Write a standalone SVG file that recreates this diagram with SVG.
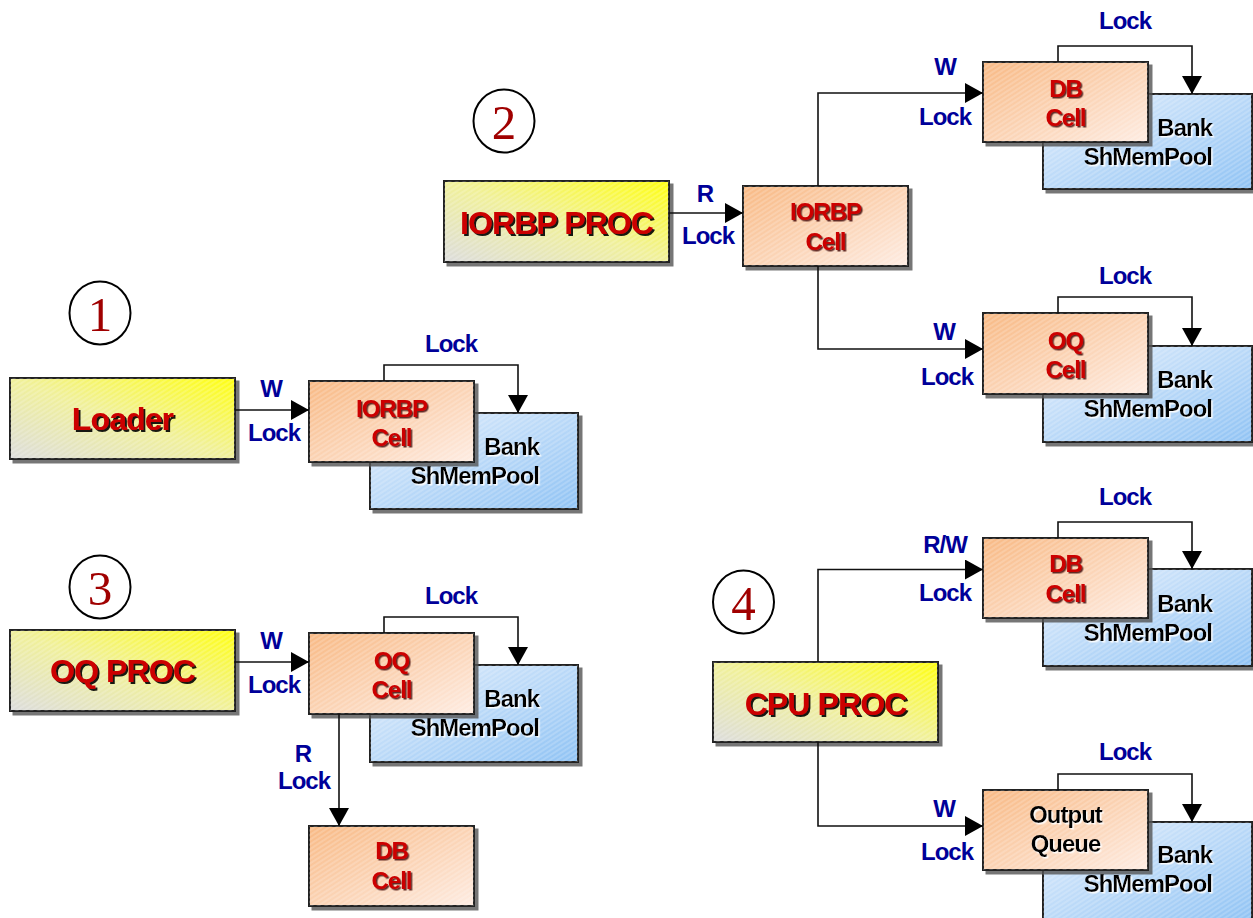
<svg xmlns="http://www.w3.org/2000/svg" width="1253" height="918" viewBox="0 0 1253 918">
<defs>
<linearGradient id="gProc" x1="0" y1="1" x2="1" y2="0">
<stop offset="0" stop-color="#dcdcdc"/>
<stop offset="0.5" stop-color="#f0f09a"/>
<stop offset="1" stop-color="#ffff10"/>
</linearGradient>
<linearGradient id="gCell" x1="0" y1="0" x2="1" y2="1">
<stop offset="0" stop-color="#f8b984"/>
<stop offset="1" stop-color="#feece2"/>
</linearGradient>
<linearGradient id="gBank" x1="0" y1="0" x2="1" y2="1">
<stop offset="0" stop-color="#e4effc"/>
<stop offset="1" stop-color="#90c3f4"/>
</linearGradient>
<pattern id="hatch" width="4" height="4" patternUnits="userSpaceOnUse" patternTransform="rotate(-33)">
<line x1="0" y1="1" x2="4" y2="1" stroke="#ffffff" stroke-opacity="0.35" stroke-width="1"/>
</pattern>
<filter id="boxSh" x="-5%" y="-5%" width="115%" height="120%">
<feDropShadow dx="3.5" dy="3.5" stdDeviation="0.6" flood-color="#555" flood-opacity="0.8"/>
</filter>
<filter id="redSh" x="-10%" y="-20%" width="130%" height="160%">
<feDropShadow dx="2" dy="2" stdDeviation="0.3" flood-color="#000" flood-opacity="0.9"/>
</filter>
<filter id="redShS" x="-10%" y="-20%" width="130%" height="160%">
<feDropShadow dx="1.5" dy="1.5" stdDeviation="0.3" flood-color="#3a0000" flood-opacity="0.8"/>
</filter>
<filter id="blkSh" x="-10%" y="-20%" width="130%" height="160%">
<feDropShadow dx="1.5" dy="1.5" stdDeviation="0.4" flood-color="#ffffff" flood-opacity="0.9"/>
</filter>
<marker id="arr" viewBox="0 0 18 20" refX="18" refY="10" markerWidth="18" markerHeight="20" markerUnits="userSpaceOnUse" orient="auto">
<path d="M0,0 L18,10 L0,20 Z" fill="#000"/>
</marker>
</defs>
<style>
.proc{fill:url(#gProc);stroke:#222;stroke-width:2;filter:url(#boxSh)}
.cell{fill:url(#gCell);stroke:#222;stroke-width:2;filter:url(#boxSh)}
.bank{fill:url(#gBank);stroke:#222;stroke-width:2;filter:url(#boxSh)}
.hatch{fill:url(#hatch);stroke:none}
.num{fill:#ffffff;stroke:#000;stroke-width:2}
.numt{font-family:"Liberation Serif","Times New Roman",serif;font-size:49px;fill:#a00000;text-anchor:middle}
.pt{font-family:"Liberation Sans",Arial,sans-serif;font-weight:bold;font-size:32px;letter-spacing:-0.9px;fill:#cc0000;text-anchor:middle;filter:url(#redSh)}
.ct{font-family:"Liberation Sans",Arial,sans-serif;font-weight:bold;font-size:24px;letter-spacing:-1px;fill:#cc0000;text-anchor:middle;filter:url(#redShS)}
.qt{font-family:"Liberation Sans",Arial,sans-serif;font-weight:bold;font-size:24px;letter-spacing:-1px;fill:#000;text-anchor:middle;filter:url(#blkSh)}
.bt{font-family:"Liberation Sans",Arial,sans-serif;font-weight:bold;font-size:24px;letter-spacing:-1px;fill:#000;text-anchor:end;filter:url(#blkSh)}
.lb{font-family:"Liberation Sans",Arial,sans-serif;font-weight:bold;font-size:24px;letter-spacing:-1px;fill:#000099;text-anchor:middle}
.cn{fill:none;stroke:#111;stroke-width:1.6}
.ar{marker-end:url(#arr)}
</style>
<rect width="1253" height="918" fill="#ffffff"/>

<!-- Group 1 -->
<g id="num1"><ellipse class="num" cx="100" cy="313" rx="30.5" ry="31.5"/><text class="numt" x="100" y="331">1</text></g>
<g id="loader"><rect class="proc" x="10" y="378" width="225" height="81"/><rect class="hatch" x="10" y="378" width="225" height="81"/><text class="pt" x="122.5" y="430">Loader</text></g>
<g id="bank1"><rect class="bank" x="370" y="413" width="208" height="96"/><rect class="hatch" x="370" y="413" width="208" height="96"/><text class="bt" x="539" y="455">Bank</text><text class="bt" x="539" y="484">ShMemPool</text></g>
<g id="iorbpCell1"><rect class="cell" x="309" y="381" width="165" height="81"/><rect class="hatch" x="309" y="381" width="165" height="81"/><text class="ct" x="391.5" y="417">IORBP</text><text class="ct" x="391.5" y="446">Cell</text></g>

<!-- Group 2 -->
<g id="num2"><ellipse class="num" cx="504" cy="121" rx="30.5" ry="31.5"/><text class="numt" x="504" y="139">2</text></g>
<g id="iorbpProc"><rect class="proc" x="444" y="181" width="225" height="81"/><rect class="hatch" x="444" y="181" width="225" height="81"/><text class="pt" x="556.5" y="234">IORBP PROC</text></g>
<g id="iorbpCell2"><rect class="cell" x="743" y="186" width="165" height="80"/><rect class="hatch" x="743" y="186" width="165" height="80"/><text class="ct" x="825.5" y="220">IORBP</text><text class="ct" x="825.5" y="250">Cell</text></g>
<g id="bank2a"><rect class="bank" x="1043" y="94" width="209" height="95"/><rect class="hatch" x="1043" y="94" width="209" height="95"/><text class="bt" x="1212" y="136">Bank</text><text class="bt" x="1212" y="165">ShMemPool</text></g>
<g id="dbCell2"><rect class="cell" x="983" y="62" width="165" height="80"/><rect class="hatch" x="983" y="62" width="165" height="80"/><text class="ct" x="1065.5" y="97">DB</text><text class="ct" x="1065.5" y="126">Cell</text></g>
<g id="bank2b"><rect class="bank" x="1043" y="346" width="209" height="96"/><rect class="hatch" x="1043" y="346" width="209" height="96"/><text class="bt" x="1212" y="388">Bank</text><text class="bt" x="1212" y="417">ShMemPool</text></g>
<g id="oqCell2"><rect class="cell" x="983" y="313" width="165" height="81"/><rect class="hatch" x="983" y="313" width="165" height="81"/><text class="ct" x="1065.5" y="349">OQ</text><text class="ct" x="1065.5" y="378">Cell</text></g>

<!-- Group 3 -->
<g id="num3"><ellipse class="num" cx="100" cy="587" rx="30.5" ry="31.5"/><text class="numt" x="100" y="605">3</text></g>
<g id="oqProc"><rect class="proc" x="10" y="630" width="225" height="81"/><rect class="hatch" x="10" y="630" width="225" height="81"/><text class="pt" x="122.5" y="682">OQ PROC</text></g>
<g id="bank3"><rect class="bank" x="370" y="665" width="208" height="97"/><rect class="hatch" x="370" y="665" width="208" height="97"/><text class="bt" x="539" y="707">Bank</text><text class="bt" x="539" y="736">ShMemPool</text></g>
<g id="oqCell3"><rect class="cell" x="309" y="633" width="165" height="81"/><rect class="hatch" x="309" y="633" width="165" height="81"/><text class="ct" x="391.5" y="669">OQ</text><text class="ct" x="391.5" y="698">Cell</text></g>
<g id="dbCell3"><rect class="cell" x="309" y="826" width="165" height="80"/><rect class="hatch" x="309" y="826" width="165" height="80"/><text class="ct" x="391.5" y="859">DB</text><text class="ct" x="391.5" y="889">Cell</text></g>

<!-- Group 4 -->
<g id="num4"><ellipse class="num" cx="743.5" cy="602" rx="30.5" ry="31.5"/><text class="numt" x="743.5" y="620">4</text></g>
<g id="cpuProc"><rect class="proc" x="713" y="662" width="225" height="80"/><rect class="hatch" x="713" y="662" width="225" height="80"/><text class="pt" x="825.5" y="715">CPU PROC</text></g>
<g id="bank4a"><rect class="bank" x="1043" y="569" width="209" height="97"/><rect class="hatch" x="1043" y="569" width="209" height="97"/><text class="bt" x="1212" y="611.5">Bank</text><text class="bt" x="1212" y="641">ShMemPool</text></g>
<g id="dbCell4"><rect class="cell" x="983" y="538" width="165" height="80"/><rect class="hatch" x="983" y="538" width="165" height="80"/><text class="ct" x="1065.5" y="571.5">DB</text><text class="ct" x="1065.5" y="601.5">Cell</text></g>
<g id="bank4b"><rect class="bank" x="1043" y="822" width="209" height="100"/><rect class="hatch" x="1043" y="822" width="209" height="100"/><text class="bt" x="1212" y="863">Bank</text><text class="bt" x="1212" y="892">ShMemPool</text></g>
<g id="outputQueue"><rect class="cell" x="983" y="790" width="165" height="80"/><rect class="hatch" x="983" y="790" width="165" height="80"/><text class="qt" x="1065.5" y="823">Output</text><text class="qt" x="1065.5" y="852">Queue</text></g>

<g id="connectors">
<!-- group 1 -->
<path class="cn ar" d="M235,410 H309"/>
<text class="lb" x="271" y="397">W</text>
<text class="lb" x="274" y="441">Lock</text>
<path class="cn ar" d="M384,381 V365 H518 V413"/>
<text class="lb" x="451" y="352">Lock</text>
<!-- group 2 -->
<path class="cn ar" d="M669,213 H743"/>
<text class="lb" x="705" y="202">R</text>
<text class="lb" x="708" y="244">Lock</text>
<path class="cn ar" d="M818,186 V93 H983"/>
<text class="lb" x="945" y="75">W</text>
<text class="lb" x="945" y="125">Lock</text>
<path class="cn ar" d="M1058,62 V46 H1192 V94"/>
<text class="lb" x="1125" y="29">Lock</text>
<path class="cn ar" d="M818,266 V349 H983"/>
<text class="lb" x="944" y="340">W</text>
<text class="lb" x="947" y="385">Lock</text>
<path class="cn ar" d="M1058,313 V297 H1192 V346"/>
<text class="lb" x="1125" y="284">Lock</text>
<!-- group 3 -->
<path class="cn ar" d="M235,662 H309"/>
<text class="lb" x="271" y="649">W</text>
<text class="lb" x="274" y="693">Lock</text>
<path class="cn ar" d="M384,633 V617 H518 V665"/>
<text class="lb" x="451" y="604">Lock</text>
<path class="cn ar" d="M339,714 V826"/>
<text class="lb" x="303" y="762">R</text>
<text class="lb" x="304" y="789">Lock</text>
<!-- group 4 -->
<path class="cn ar" d="M818,662 V569.5 H983"/>
<text class="lb" x="945" y="553">R/W</text>
<text class="lb" x="945" y="601">Lock</text>
<path class="cn ar" d="M1058,538 V522 H1192 V569"/>
<text class="lb" x="1125" y="505">Lock</text>
<path class="cn ar" d="M818,742 V826 H983"/>
<text class="lb" x="944" y="817">W</text>
<text class="lb" x="947" y="860">Lock</text>
<path class="cn ar" d="M1058,790 V774 H1192 V822"/>
<text class="lb" x="1125" y="760">Lock</text>
</g>
</svg>
